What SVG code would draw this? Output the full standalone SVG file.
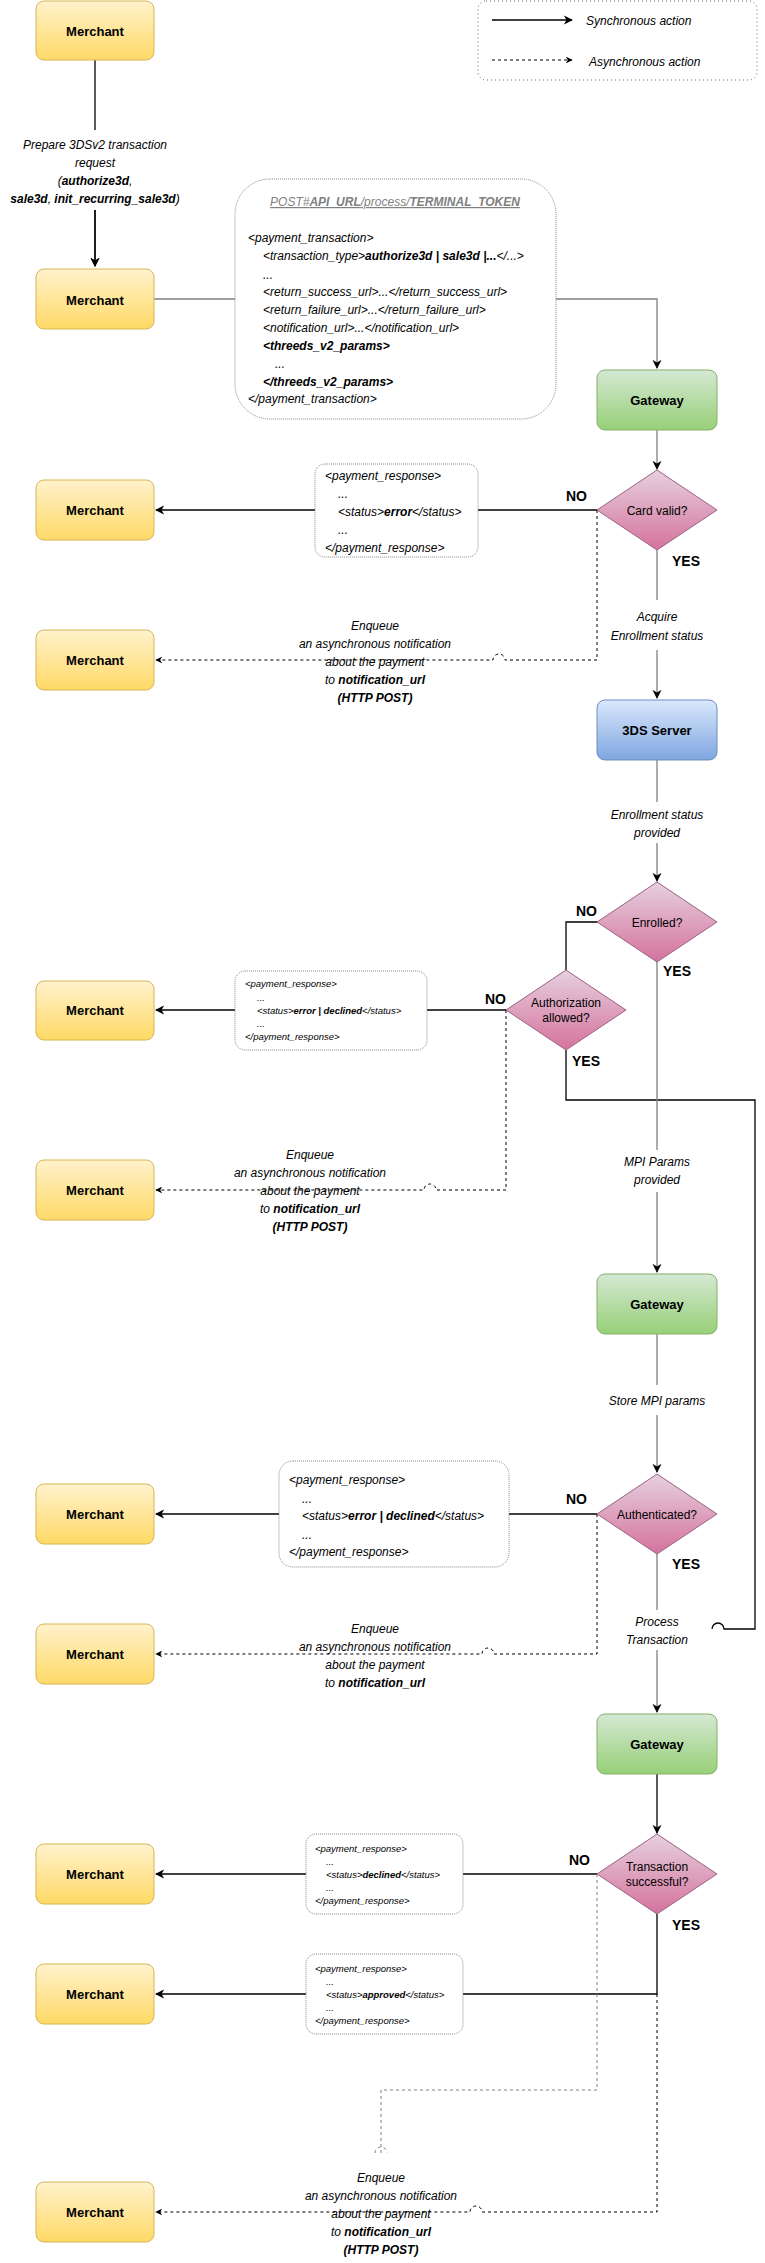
<svg xmlns="http://www.w3.org/2000/svg" width="765" height="2263" viewBox="0 0 765 2263">
<style>
text{font-family:"Liberation Sans",Arial,sans-serif;fill:#000}
.m{fill:url(#gy);stroke:#d6b656}
.g{fill:url(#gg);stroke:#82b366}
.s{fill:url(#gb);stroke:#6c8ebf}
.d{fill:url(#gp);stroke:#996185}
.nl{font-size:13px;font-weight:bold;text-anchor:middle}
.lb{font-size:12px;font-style:italic;text-anchor:middle}
.x{font-size:12px;font-style:italic}
.xs{font-size:9.5px;font-style:italic}
.yn{font-size:14px;font-weight:bold}
.box{fill:#fff;stroke:#888;stroke-dasharray:1 1}
.sl{fill:none;stroke:#000;stroke-width:1.3}
.gl{fill:none;stroke:#808080;stroke-width:1.3}
.dl{fill:none;stroke:#000;stroke-dasharray:3 3}
.dg{fill:none;stroke:#808080;stroke-dasharray:3 3}
</style>
<defs>
<linearGradient id="gy" x1="0" y1="0" x2="0" y2="1"><stop offset="0" stop-color="#fff2cc"/><stop offset="1" stop-color="#ffd966"/></linearGradient>
<linearGradient id="gg" x1="0" y1="0" x2="0" y2="1"><stop offset="0" stop-color="#d5e8d4"/><stop offset="1" stop-color="#97d077"/></linearGradient>
<linearGradient id="gb" x1="0" y1="0" x2="0" y2="1"><stop offset="0" stop-color="#dae8fc"/><stop offset="1" stop-color="#7ea6e0"/></linearGradient>
<linearGradient id="gp" x1="0" y1="0" x2="0" y2="1"><stop offset="0" stop-color="#e6d0de"/><stop offset="1" stop-color="#d5739d"/></linearGradient>
<marker id="a" viewBox="0 0 10 10" refX="9" refY="5" markerWidth="7" markerHeight="7" orient="auto"><path d="M0,0 L10,5 L0,10 L3,5 Z" fill="#000"/></marker>
</defs>

<g id="legend">
<rect x="478" y="1" width="279" height="79" rx="8" fill="none" stroke="#666" stroke-dasharray="1 3"/>
<line x1="492" y1="20" x2="572" y2="20" class="sl" marker-end="url(#a)"/>
<text x="586" y="25" class="x">Synchronous action</text>
<line x1="492" y1="60" x2="572" y2="60" class="dl" marker-end="url(#a)"/>
<text x="589" y="66" class="x">Asynchronous action</text>
</g>

<g id="connectors">
<path d="M95,60 V130 M95,210 V266" class="sl" marker-end="url(#a)"/>
<path d="M95,210 V266" class="sl" marker-end="url(#a)"/>
<path d="M154,299 H235 M556,299 H657 V368" class="gl" marker-end="url(#a)"/>
<path d="M657,430 V469" class="gl" marker-end="url(#a)"/>
<path d="M597,510 H156" class="sl" marker-end="url(#a)"/>
<path d="M597,510 V660 H505 A6,6 0 0 0 493,660 H156" class="dl" marker-end="url(#a)"/>
<path d="M657,550 V600 M657,650 V698" class="gl" marker-end="url(#a)"/>
<path d="M657,760 V802 M657,843 V881" class="gl" marker-end="url(#a)"/>
<path d="M597,922 H566 V971" class="sl"/>
<path d="M506,1010 H156" class="sl" marker-end="url(#a)"/>
<path d="M506,1010 V1190 H436 A6,6 0 0 0 424,1190 H156" class="dl" marker-end="url(#a)"/>
<path d="M566,1050 V1100 H755 V1629 H724 A6,6 0 0 0 712,1629" class="sl"/>
<path d="M657,962 V1150 M657,1192 V1272" class="gl" marker-end="url(#a)"/>
<path d="M657,1334 V1385 M657,1415 V1472" class="gl" marker-end="url(#a)"/>
<path d="M597,1514 H156" class="sl" marker-end="url(#a)"/>
<path d="M597,1514 V1654 H494 A6,6 0 0 0 482,1654 H156" class="dl" marker-end="url(#a)"/>
<path d="M657,1554 V1610 M657,1650 V1712" class="gl" marker-end="url(#a)"/>
<path d="M657,1774 V1833" class="sl" marker-end="url(#a)"/>
<path d="M597,1874 H156" class="sl" marker-end="url(#a)"/>
<path d="M657,1914 V1994 H156" class="sl" marker-end="url(#a)"/>
<path d="M597,1874 V2090 H381 V2153 M375,2153 A6,6 0 0 1 387,2153" class="dg"/>
<path d="M657,1994 V2212 H482 A6,6 0 0 0 470,2212 H156" class="dl" marker-end="url(#a)"/>
</g>

<g id="labels">
<text class="lb"><tspan x="95" y="149">Prepare 3DSv2 transaction</tspan><tspan x="95" y="167">request</tspan><tspan x="95" y="185">(<tspan font-weight="bold">authorize3d</tspan>,</tspan><tspan x="95" y="203"><tspan font-weight="bold">sale3d</tspan>, <tspan font-weight="bold">init_recurring_sale3d</tspan>)</tspan></text>
<text class="lb"><tspan x="657" y="621">Acquire</tspan><tspan x="657" y="640">Enrollment status</tspan></text>
<text class="lb"><tspan x="657" y="819">Enrollment status</tspan><tspan x="657" y="837">provided</tspan></text>
<text class="lb"><tspan x="657" y="1166">MPI Params</tspan><tspan x="657" y="1184">provided</tspan></text>
<text class="lb" x="657" y="1405">Store MPI params</text>
<text class="lb"><tspan x="657" y="1626">Process</tspan><tspan x="657" y="1644">Transaction</tspan></text>
<text class="lb"><tspan x="375" y="630">Enqueue</tspan><tspan x="375" y="648">an asynchronous notification</tspan><tspan x="375" y="666">about the payment</tspan><tspan x="375" y="684">to <tspan font-weight="bold">notification_url</tspan></tspan><tspan x="375" y="702" font-weight="bold">(HTTP POST)</tspan></text>
<text class="lb"><tspan x="310" y="1159">Enqueue</tspan><tspan x="310" y="1177">an asynchronous notification</tspan><tspan x="310" y="1195">about the payment</tspan><tspan x="310" y="1213">to <tspan font-weight="bold">notification_url</tspan></tspan><tspan x="310" y="1231" font-weight="bold">(HTTP POST)</tspan></text>
<text class="lb"><tspan x="375" y="1633">Enqueue</tspan><tspan x="375" y="1651">an asynchronous notification</tspan><tspan x="375" y="1669">about the payment</tspan><tspan x="375" y="1687">to <tspan font-weight="bold">notification_url</tspan></tspan></text>
<text class="lb"><tspan x="381" y="2182">Enqueue</tspan><tspan x="381" y="2200">an asynchronous notification</tspan><tspan x="381" y="2218">about the payment</tspan><tspan x="381" y="2236">to <tspan font-weight="bold">notification_url</tspan></tspan><tspan x="381" y="2254" font-weight="bold">(HTTP POST)</tspan></text>
<text class="yn" x="566" y="501">NO</text><text class="yn" x="672" y="566">YES</text>
<text class="yn" x="576" y="916">NO</text><text class="yn" x="663" y="976">YES</text>
<text class="yn" x="485" y="1004">NO</text><text class="yn" x="572" y="1066">YES</text>
<text class="yn" x="566" y="1504">NO</text><text class="yn" x="672" y="1569">YES</text>
<text class="yn" x="569" y="1865">NO</text><text class="yn" x="672" y="1930">YES</text>
</g>

<g id="request">
<rect x="235" y="179" width="321" height="240" rx="35" class="box"/>
<text x="395" y="206" class="x" text-anchor="middle" fill="#808080" style="fill:#808080" text-decoration="underline">POST#<tspan font-weight="bold">API_URL</tspan>/process/<tspan font-weight="bold">TERMINAL_TOKEN</tspan></text>
<text class="x"><tspan x="248" y="242">&lt;payment_transaction&gt;</tspan><tspan x="263" y="260">&lt;transaction_type&gt;<tspan font-weight="bold">authorize3d | sale3d |...</tspan>&lt;/...&gt;</tspan><tspan x="263" y="279">...</tspan><tspan x="263" y="296">&lt;return_success_url&gt;...&lt;/return_success_url&gt;</tspan><tspan x="263" y="314">&lt;return_failure_url&gt;...&lt;/return_failure_url&gt;</tspan><tspan x="263" y="332">&lt;notification_url&gt;...&lt;/notification_url&gt;</tspan><tspan x="263" y="350" font-weight="bold">&lt;threeds_v2_params&gt;</tspan><tspan x="275" y="368">...</tspan><tspan x="263" y="386" font-weight="bold">&lt;/threeds_v2_params&gt;</tspan><tspan x="248" y="403">&lt;/payment_transaction&gt;</tspan></text>
</g>

<g id="resp1"><rect x="315" y="464" width="163" height="93" rx="10" class="box"/>
<text class="x"><tspan x="325" y="480">&lt;payment_response&gt;</tspan><tspan x="338" y="498">...</tspan><tspan x="338" y="516">&lt;status&gt;<tspan font-weight="bold">error</tspan>&lt;/status&gt;</tspan><tspan x="338" y="534">...</tspan><tspan x="325" y="552">&lt;/payment_response&gt;</tspan></text></g>
<g id="resp2"><rect x="235" y="971" width="192" height="79" rx="10" class="box"/>
<text class="xs"><tspan x="245" y="987">&lt;payment_response&gt;</tspan><tspan x="257" y="1001">...</tspan><tspan x="257" y="1014">&lt;status&gt;<tspan font-weight="bold">error | declined</tspan>&lt;/status&gt;</tspan><tspan x="257" y="1027">...</tspan><tspan x="245" y="1040">&lt;/payment_response&gt;</tspan></text></g>
<g id="resp3"><rect x="279" y="1461" width="230" height="106" rx="14" class="box"/>
<text class="x"><tspan x="289" y="1484">&lt;payment_response&gt;</tspan><tspan x="302" y="1503">...</tspan><tspan x="302" y="1520">&lt;status&gt;<tspan font-weight="bold">error | declined</tspan>&lt;/status&gt;</tspan><tspan x="302" y="1539">...</tspan><tspan x="289" y="1556">&lt;/payment_response&gt;</tspan></text></g>
<g id="resp4"><rect x="306" y="1834" width="157" height="80" rx="10" class="box"/>
<text class="xs"><tspan x="315" y="1852">&lt;payment_response&gt;</tspan><tspan x="326" y="1865">...</tspan><tspan x="326" y="1878">&lt;status&gt;<tspan font-weight="bold">declined</tspan>&lt;/status&gt;</tspan><tspan x="326" y="1891">...</tspan><tspan x="315" y="1904">&lt;/payment_response&gt;</tspan></text></g>
<g id="resp5"><rect x="306" y="1954" width="157" height="80" rx="10" class="box"/>
<text class="xs"><tspan x="315" y="1972">&lt;payment_response&gt;</tspan><tspan x="326" y="1985">...</tspan><tspan x="326" y="1998">&lt;status&gt;<tspan font-weight="bold">approved</tspan>&lt;/status&gt;</tspan><tspan x="326" y="2011">...</tspan><tspan x="315" y="2024">&lt;/payment_response&gt;</tspan></text></g>

<g id="merchant1"><rect x="36" y="1" width="118" height="59" rx="8" class="m"/><text x="95" y="36" class="nl" font-size="15">Merchant</text></g>
<g id="merchant2"><rect x="36" y="269" width="118" height="60" rx="8" class="m"/><text x="95" y="305" class="nl" font-size="15">Merchant</text></g>
<g id="merchant3"><rect x="36" y="480" width="118" height="60" rx="8" class="m"/><text x="95" y="515" class="nl">Merchant</text></g>
<g id="merchant4"><rect x="36" y="630" width="118" height="60" rx="8" class="m"/><text x="95" y="665" class="nl">Merchant</text></g>
<g id="merchant5"><rect x="36" y="981" width="118" height="59" rx="8" class="m"/><text x="95" y="1015" class="nl">Merchant</text></g>
<g id="merchant6"><rect x="36" y="1160" width="118" height="60" rx="8" class="m"/><text x="95" y="1195" class="nl">Merchant</text></g>
<g id="merchant7"><rect x="36" y="1484" width="118" height="60" rx="8" class="m"/><text x="95" y="1519" class="nl">Merchant</text></g>
<g id="merchant8"><rect x="36" y="1624" width="118" height="60" rx="8" class="m"/><text x="95" y="1659" class="nl">Merchant</text></g>
<g id="merchant9"><rect x="36" y="1844" width="118" height="60" rx="8" class="m"/><text x="95" y="1879" class="nl">Merchant</text></g>
<g id="merchant10"><rect x="36" y="1964" width="118" height="60" rx="8" class="m"/><text x="95" y="1999" class="nl">Merchant</text></g>
<g id="merchant11"><rect x="36" y="2182" width="118" height="60" rx="8" class="m"/><text x="95" y="2217" class="nl">Merchant</text></g>

<g id="gateway1"><rect x="597" y="370" width="120" height="60" rx="8" class="g"/><text x="657" y="405" class="nl" font-size="15">Gateway</text></g>
<g id="server3ds"><rect x="597" y="700" width="120" height="60" rx="8" class="s"/><text x="657" y="735" class="nl">3DS Server</text></g>
<g id="gateway2"><rect x="597" y="1274" width="120" height="60" rx="8" class="g"/><text x="657" y="1309" class="nl">Gateway</text></g>
<g id="gateway3"><rect x="597" y="1714" width="120" height="60" rx="8" class="g"/><text x="657" y="1749" class="nl">Gateway</text></g>

<g id="cardValid"><path d="M657,470 L717,510 L657,550 L597,510 Z" class="d"/><text x="657" y="515" class="lb" style="font-style:normal">Card valid?</text></g>
<g id="enrolled"><path d="M657,882 L717,922 L657,962 L597,922 Z" class="d"/><text x="657" y="927" class="lb" style="font-style:normal">Enrolled?</text></g>
<g id="authAllowed"><path d="M566,970 L626,1010 L566,1050 L506,1010 Z" class="d"/><text class="lb" style="font-style:normal"><tspan x="566" y="1007">Authorization</tspan><tspan x="566" y="1022">allowed?</tspan></text></g>
<g id="authenticated"><path d="M657,1474 L717,1514 L657,1554 L597,1514 Z" class="d"/><text x="657" y="1519" class="lb" style="font-style:normal">Authenticated?</text></g>
<g id="txSuccess"><path d="M657,1834 L717,1874 L657,1914 L597,1874 Z" class="d"/><text class="lb" style="font-style:normal"><tspan x="657" y="1871">Transaction</tspan><tspan x="657" y="1886">successful?</tspan></text></g>
</svg>
